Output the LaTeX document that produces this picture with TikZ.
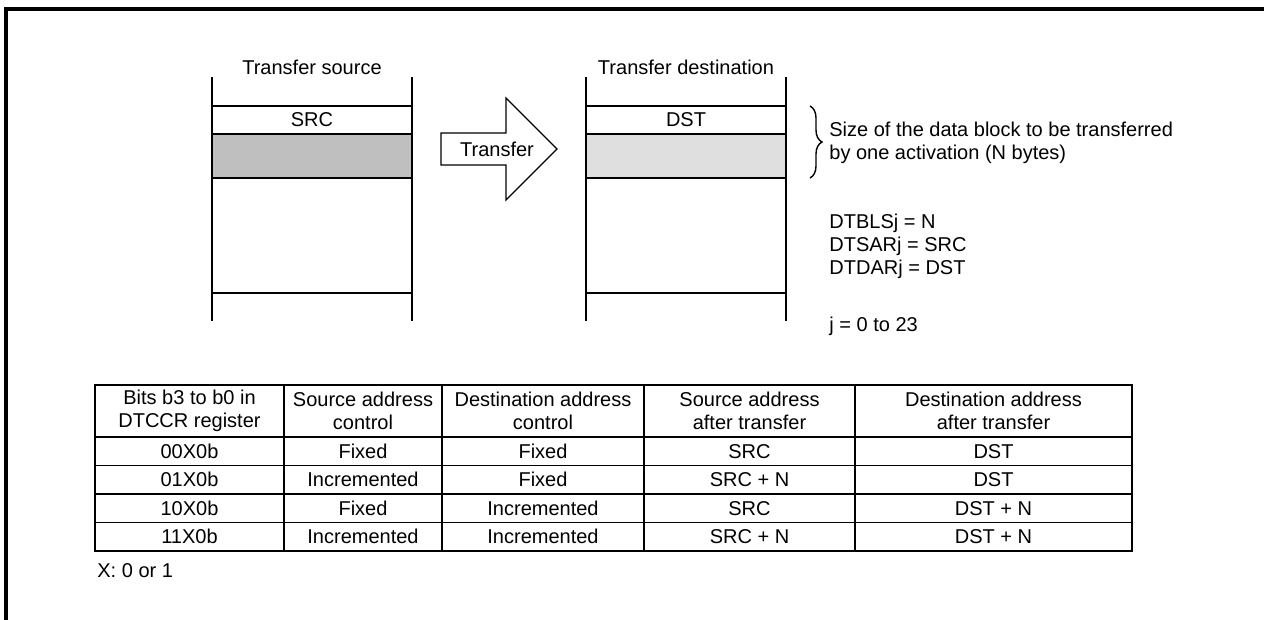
\documentclass[tikz,border=0pt]{standalone}
\usepackage{fontspec}
\setmainfont{Liberation Sans}
\usetikzlibrary{positioning, decorations.pathreplacing}

\begin{document}
\begin{tikzpicture}[
    x=0.5pt, y=-0.5pt,
    txt/.style={font=\fontsize{10}{11.5}\selectfont, inner sep=0pt, align=center},
    memcell/.style={draw, line width=0.7pt, outer sep=0pt, minimum width=100pt, txt},
    memside/.style={line width=0.7pt},
    cell/.style={draw, line width=0.8pt, outer sep=0pt, minimum height=14.25pt, txt},
    hdr/.style={cell, minimum height=26pt},
    colA/.style={minimum width=94.5pt},
    colB/.style={minimum width=79pt},
    colC/.style={minimum width=101pt},
    colD/.style={minimum width=105.5pt},
    colE/.style={minimum width=138.5pt},
]
    \useasboundingbox (0,0) rectangle (1264,620);
    \draw[line width=1.6pt] (6,630) -- (6,9) -- (1275,9);

    % transfer source
    \node[memcell, minimum height=14pt, anchor=north west] (src) at (212,106) {SRC};
    \node[memcell, minimum height=22pt, fill=gray!50, below=0pt of src] (srcblk) {};
    \node[memcell, minimum height=57.5pt, line width=1pt, below=0pt of srcblk] (srcfree) {};
    \draw[memside] ([yshift=14.5pt]src.north west) -- ([yshift=-14pt]srcfree.south west);
    \draw[memside] ([yshift=14.5pt]src.north east) -- ([yshift=-14pt]srcfree.south east);
    \node[txt, anchor=base] (srctitle) at (312,75) {Transfer source};

    % transfer destination
    \node[memcell, minimum height=14pt, anchor=north west] (dst) at (586,106) {DST};
    \node[memcell, minimum height=22pt, fill=gray!25, below=0pt of dst] (dstblk) {};
    \node[memcell, minimum height=57.5pt, line width=1pt, below=0pt of dstblk] (dstfree) {};
    \draw[memside] ([yshift=14.5pt]dst.north west) -- ([yshift=-14pt]dstfree.south west);
    \draw[memside] ([yshift=14.5pt]dst.north east) -- ([yshift=-14pt]dstfree.south east);
    \node[txt, anchor=base] (dsttitle) at (686,75) {Transfer destination};

    % big arrow
    \draw[memside, fill=white] (441,133) -- (506,133) -- (506,98) -- (557,149)
        -- (506,200) -- (506,165) -- (441,165) -- cycle;
    \node[txt] (xfer) at (497,149) {Transfer};

    % block size note
    \draw[memside, decorate, decoration={brace, amplitude=6pt}]
        ([xshift=12pt]dst.north east) -- ([xshift=12pt]dstblk.south east);
    \node[txt, anchor=west, align=left] (sizenote) at (829,143)
        {Size of the data block to be transferred\\by one activation (N bytes)};
    \node[txt, anchor=west, align=left] (regs) at (829,246)
        {DTBLSj = N\\DTSARj = SRC\\DTDARj = DST};
    \node[txt, anchor=base west] (jrange) at (829,331) {j = 0 to 23};

    % address control table
    \node[hdr, colA, anchor=north west] (h1) at (95,385) {Bits b3 to b0 in\\DTCCR register};
    \node[hdr, colB, right=0pt of h1] (h2) {Source address\\control};
    \node[hdr, colC, right=0pt of h2] (h3) {Destination address\\control};
    \node[hdr, colD, right=0pt of h3] (h4) {Source address\\after transfer};
    \node[hdr, colE, right=0pt of h4] (h5) {Destination address\\after transfer};

    \node[cell, colA, below=0pt of h1] (a1) {00X0b};
    \node[cell, colB, right=0pt of a1] (b1) {Fixed};
    \node[cell, colC, right=0pt of b1] (c1) {Fixed};
    \node[cell, colD, right=0pt of c1] (d1) {SRC};
    \node[cell, colE, right=0pt of d1] (e1) {DST};

    \node[cell, colA, below=0pt of a1] (a2) {01X0b};
    \node[cell, colB, right=0pt of a2] (b2) {Incremented};
    \node[cell, colC, right=0pt of b2] (c2) {Fixed};
    \node[cell, colD, right=0pt of c2] (d2) {SRC + N};
    \node[cell, colE, right=0pt of d2] (e2) {DST};

    \node[cell, colA, below=0pt of a2] (a3) {10X0b};
    \node[cell, colB, right=0pt of a3] (b3) {Fixed};
    \node[cell, colC, right=0pt of b3] (c3) {Incremented};
    \node[cell, colD, right=0pt of c3] (d3) {SRC};
    \node[cell, colE, right=0pt of d3] (e3) {DST + N};

    \node[cell, colA, below=0pt of a3] (a4) {11X0b};
    \node[cell, colB, right=0pt of a4] (b4) {Incremented};
    \node[cell, colC, right=0pt of b4] (c4) {Incremented};
    \node[cell, colD, right=0pt of c4] (d4) {SRC + N};
    \node[cell, colE, right=0pt of d4] (e4) {DST + N};

    \node[txt, anchor=west] (xnote) at (97,571) {X: 0 or 1};
\end{tikzpicture}
\end{document}
